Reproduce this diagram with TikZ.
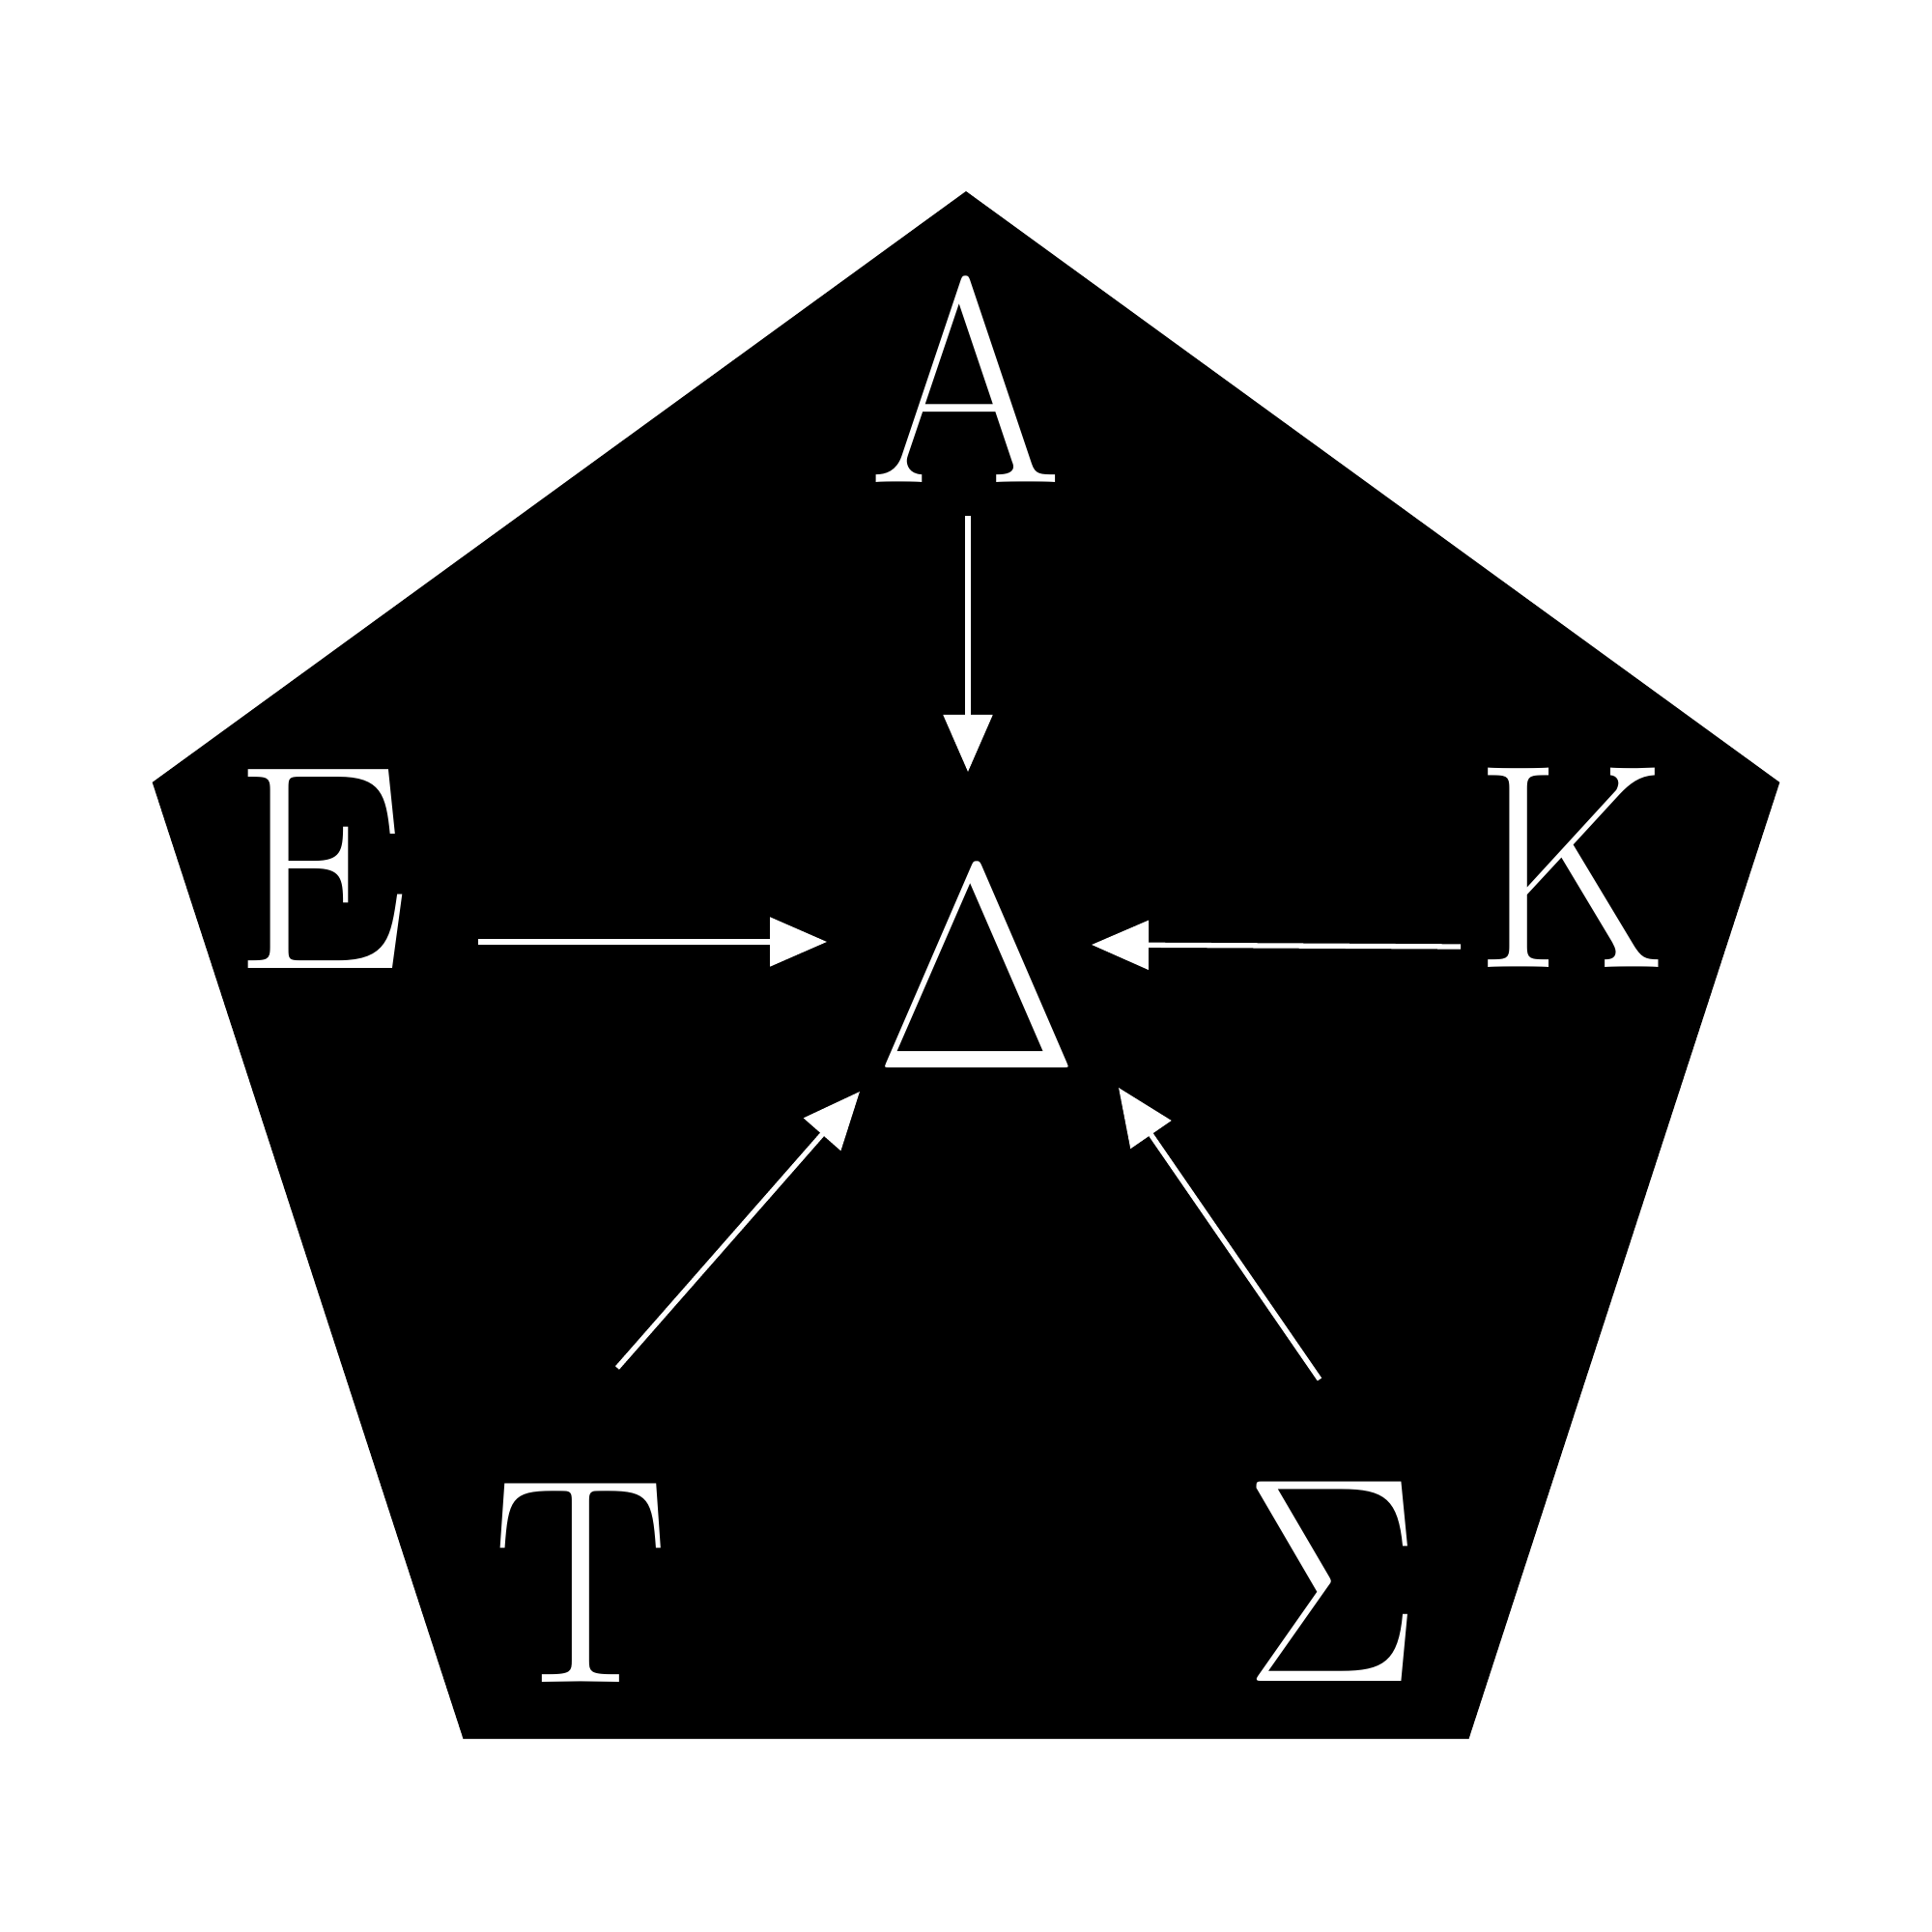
\documentclass[tikz,border=0pt]{standalone}
\usetikzlibrary{arrows.meta}

\begin{document}
\begin{tikzpicture}[
    letter/.style={white, inner sep=0pt, anchor=base, font=\fontsize{86}{100}\selectfont},
    arr/.style={white, line width=1.5pt, -{Triangle[length=5.9mm,width=5mm]}}
  ]
    \useasboundingbox (0,0) rectangle (20,20);

    % Define vertices
    \coordinate (P1) at (10,18.02);
    \coordinate (P2) at (1.577,11.901);
    \coordinate (P3) at (4.795,1.999);
    \coordinate (P4) at (15.205,1.999);
    \coordinate (P5) at (18.423,11.901);

    % Draw the pentagon
    \fill[black] (P1) -- (P2) -- (P3) -- (P4) -- (P5) -- cycle;

    % Add letters
    \node[letter] (A) at (10.00,15.00) {\scalebox{0.95}[1]{Α}};
    \node[letter] (E) at (3.33,9.97) {\scalebox{0.95}[1]{Ε}};
    \node[letter] (K) at (16.26,9.98) {\scalebox{0.92}[1]{Κ}};
    \node[letter] (T) at (6.01,2.58) {\scalebox{0.9}[1]{Τ}};
    \node[letter] (S) at (13.79,2.59) {\scalebox{0.9}[1]{Σ}};
    \node[letter] (D) at (10.11,8.94) {\scalebox{0.9}[1]{Δ}};

    % Draw arrows into the centre
    \draw[arr] ([shift={(0.02,-0.34)}]A.base) -- ([shift={(-0.09,3.07)}]D.base);
    \draw[arr] ([shift={(1.62,0.28)}]E.base) -- ([shift={(-1.55,1.31)}]D.base);
    \draw[arr] ([shift={(-1.14,0.22)}]K.base) -- ([shift={(1.19,1.28)}]D.base);
    \draw[arr] ([shift={(0.38,3.26)}]T.base) -- ([shift={(-1.21,-0.24)}]D.base);
    \draw[arr] ([shift={(-0.13,3.13)}]S.base) -- ([shift={(1.47,-0.20)}]D.base);

\end{tikzpicture}
\end{document}
